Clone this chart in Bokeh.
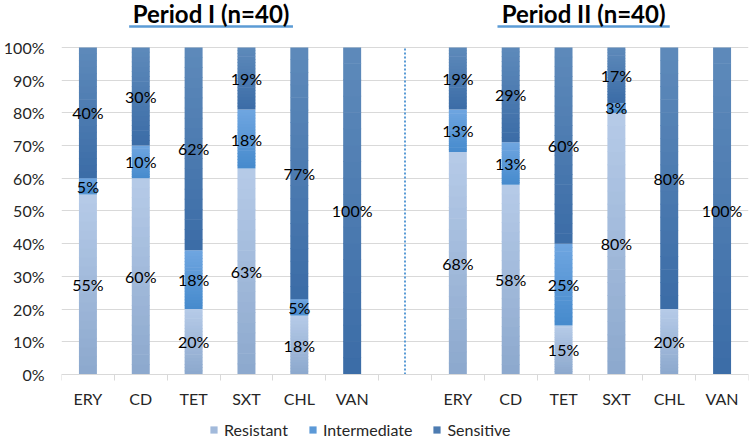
from bokeh.plotting import figure
from bokeh.models import (Range1d, FixedTicker, NumeralTickFormatter, ColumnDataSource,
                          Legend, LegendItem, Label)
from bokeh.core.properties import value
from bokeh.embed import file_html
from bokeh.resources import INLINE

# ---------------- data ----------------
drugs = ["ERY", "CD", "TET", "SXT", "CHL", "VAN"]
periods = ["Period I (n=40)", "Period II (n=40)"]
series_names = ["Resistant", "Intermediate", "Sensitive"]

resistant_1 = [55, 60, 20, 63, 18, 0]
intermediate_1 = [5, 10, 18, 18, 5, 0]
sensitive_1 = [40, 30, 62, 19, 77, 100]

resistant_2 = [68, 58, 15, 80, 20, 0]
intermediate_2 = [13, 13, 25, 3, 0, 0]
sensitive_2 = [19, 29, 60, 17, 80, 100]

y_ticks = [0, 10, 20, 30, 40, 50, 60, 70, 80, 90, 100]

# ---------------- styles ----------------
FONT = "Lato"
grad_top = {"Resistant": "#b6cbe8", "Intermediate": "#6fa6e0", "Sensitive": "#5e8abb"}
grad_bot = {"Resistant": "#8ca8cd", "Intermediate": "#468acd", "Sensitive": "#3b6ca6"}
N_SLICES = 20
BAR_W = 0.34
OVERLAP = 0.002


def h2rgb(h):
    h = h.lstrip("#")
    return tuple(int(h[i:i + 2], 16) for i in (0, 2, 4))


def mix(c0, c1, t):
    a, b = h2rgb(c0), h2rgb(c1)
    return "#%02x%02x%02x" % tuple(int(round(a[i] + (b[i] - a[i]) * t)) for i in range(3))


data = {
    "Resistant": [resistant_1, resistant_2],
    "Intermediate": [intermediate_1, intermediate_2],
    "Sensitive": [sensitive_1, sensitive_2],
}

slot = len(drugs) + 1
xpos = [[pi * slot + j + 0.5 for j in range(len(drugs))] for pi in range(len(periods))]

p = figure(width=750, height=439, x_range=Range1d(0, len(periods) * slot - 1),
           y_range=Range1d(-0.199, 1.1437), output_backend="svg", toolbar_location=None,
           min_border_left=57, min_border_right=2, min_border_top=0, min_border_bottom=0)
p.outline_line_color = None
p.background_fill_color = "white"
p.border_fill_color = "white"

renderers = {}
lab_x, lab_y, lab_t = [], [], []
cum = [[0] * len(drugs) for _ in periods]
for name in series_names:
    src = {"x": [], "bottom": [], "top": [], "color": []}
    for pi in range(len(periods)):
        vals = data[name][pi]
        for j, v in enumerate(vals):
            b = cum[pi][j]
            t = b + v
            cum[pi][j] = t
            if v <= 0:
                continue
            for k in range(N_SLICES):
                s0 = (b + v * k / N_SLICES) / 100
                s1 = (b + v * (k + 1) / N_SLICES) / 100
                if k < N_SLICES - 1:
                    s1 += OVERLAP
                src["x"].append(xpos[pi][j])
                src["bottom"].append(s0)
                src["top"].append(s1)
                src["color"].append(mix(grad_bot[name], grad_top[name], (k + 0.5) / N_SLICES))
            lab_x.append(xpos[pi][j])
            lab_y.append((b + v / 2) / 100)
            lab_t.append(f"{v}%")
    r = p.vbar(x="x", bottom="bottom", top="top", width=BAR_W, fill_color="color",
               line_color=None, source=ColumnDataSource(src))
    renderers[name] = r

p.text(x=lab_x, y=lab_y, text=lab_t, text_font=value(FONT), text_font_size="16px",
       text_align="center", text_baseline="middle", text_color="#000000")

# separator between periods
sep_x = len(drugs) + 0.5
p.segment(x0=[sep_x], x1=[sep_x], y0=[0], y1=[1.0], line_color="#5b9bd5",
          line_width=2, line_dash="2 2")

# titles with underline
under_hw = [1.55, 1.63]
title_shift = [-0.17, -0.12]
for pi, title in enumerate(periods):
    cx = sum(xpos[pi]) / len(xpos[pi]) + title_shift[pi]
    p.add_layout(Label(x=cx, y=1.104, text=title, text_font=FONT, text_font_style="bold",
                       text_font_size="24px", text_align="center", text_baseline="middle",
                       text_color="#000000"))
    p.segment(x0=[cx - under_hw[pi]], x1=[cx + under_hw[pi]], y0=[1.064], y1=[1.064],
              line_color="#5b9bd5", line_width=2.5)

# axes
centers = [x for row in xpos for x in row]
bounds = list(range(len(periods) * slot))
p.xaxis.fixed_location = 0
p.xaxis.ticker = FixedTicker(ticks=centers, minor_ticks=bounds)
p.xaxis.major_label_overrides = {c: drugs[i % len(drugs)] for i, c in enumerate(centers)}
p.xaxis.major_tick_line_color = None
p.xaxis.major_tick_out = 0
p.xaxis.major_tick_in = 0
p.xaxis.minor_tick_line_color = "#d9d9d9"
p.xaxis.minor_tick_out = 6
p.xaxis.minor_tick_in = 0
p.xaxis.axis_line_color = "#d9d9d9"
p.xaxis.major_label_standoff = 9
p.xaxis.major_label_text_font = FONT
p.xaxis.major_label_text_font_size = "16px"
p.xaxis.major_label_text_color = "#262626"

p.yaxis.ticker = FixedTicker(ticks=[v / 100 for v in y_ticks])
p.yaxis.formatter = NumeralTickFormatter(format="0%")
p.yaxis.axis_line_color = None
p.yaxis.major_tick_line_color = None
p.yaxis.minor_tick_line_color = None
p.yaxis.major_tick_out = 0
p.yaxis.major_label_standoff = 17
p.yaxis.major_label_text_font = FONT
p.yaxis.major_label_text_font_size = "16px"
p.yaxis.major_label_text_color = "#262626"

p.xgrid.grid_line_color = None
p.ygrid.grid_line_color = "#d9d9d9"
p.ygrid.ticker = p.yaxis.ticker

legend = Legend(items=[LegendItem(label=n, renderers=[renderers[n]], index=N_SLICES // 2)
                       for n in series_names],
                orientation="horizontal", location=(148, 0), padding=0, margin=0,
                spacing=20, glyph_width=9, glyph_height=9, label_standoff=6, label_height=14,
                label_text_font=FONT, label_text_font_size="16px", label_text_color="#262626",
                border_line_color=None, background_fill_alpha=0)
p.add_layout(legend, "center")

open("out.html", "w").write(file_html(p, INLINE))
